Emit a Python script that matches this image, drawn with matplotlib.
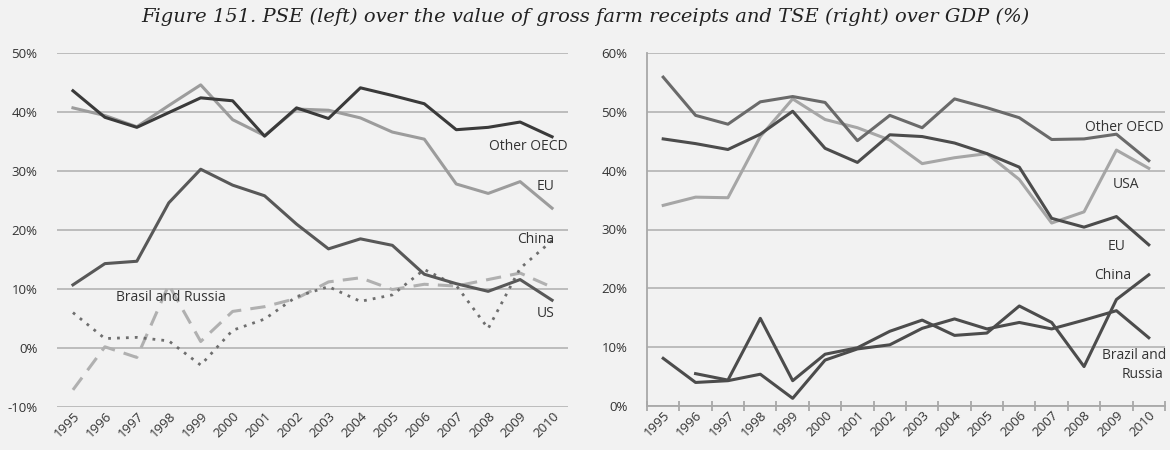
import numpy as np
import matplotlib.pyplot as plt
from matplotlib.ticker import FuncFormatter

years = list(range(1995, 2011))

# Left panel: PSE over gross farm receipts (%)
pse_other_oecd = [43.6, 39.1, 37.4, 39.9, 42.4, 41.9, 35.9, 40.7, 38.9, 44.1, 42.8, 41.4, 37.0, 37.4, 38.3, 35.8]
pse_eu = [40.7, 39.4, 37.5, 41.1, 44.6, 38.7, 36.0, 40.5, 40.3, 39.0, 36.6, 35.4, 27.8, 26.2, 28.2, 23.7]
pse_us = [10.7, 14.3, 14.7, 24.6, 30.3, 27.6, 25.8, 21.0, 16.8, 18.5, 17.4, 12.5, 10.9, 9.6, 11.6, 8.1]
pse_brasil_russia = [-7.1, 0.2, -1.6, 10.7, 1.1, 6.2, 7.0, 8.4, 11.2, 11.9, 9.9, 10.8, 10.5, 11.6, 12.7, 10.3]
pse_china = [6.0, 1.6, 1.8, 1.2, -2.9, 3.0, 4.9, 8.7, 10.4, 7.9, 9.0, 13.3, 10.6, 3.3, 13.5, 18.2]

# Right panel: TSE over GDP (%)
tse_other_oecd = [55.9, 49.4, 47.9, 51.7, 52.6, 51.6, 45.1, 49.4, 47.3, 52.2, 50.7, 49.0, 45.3, 45.4, 46.2, 41.7]
tse_eu = [45.4, 44.6, 43.6, 46.2, 50.1, 43.8, 41.4, 46.1, 45.8, 44.7, 42.9, 40.6, 31.9, 30.4, 32.2, 27.4]
tse_usa = [34.1, 35.5, 35.4, 45.8, 52.2, 48.7, 47.3, 45.2, 41.2, 42.2, 42.9, 38.5, 31.1, 33.0, 43.5, 40.4]
tse_china = [8.1, 4.0, 4.3, 5.4, 1.3, 7.8, 9.7, 10.4, 13.2, 14.8, 13.1, 14.2, 13.1, 14.6, 16.2, 11.6]
tse_brazil_russia = [np.nan, 5.5, 4.4, 14.9, 4.3, 8.8, 9.9, 12.7, 14.6, 12.0, 12.4, 17.0, 14.2, 6.7, 18.1, 22.3]

title = "Figure 151. PSE (left) over the value of gross farm receipts and TSE (right) over GDP (%)"

bg = '#f2f2f2'
grid_c = '#bcbcbc'
lab_font = dict(family='Open Sans', fontsize=10, color='#333333')

fig = plt.figure(figsize=(11.7, 4.5), dpi=100, facecolor=bg)
fig.text(0.5, 0.962, title, ha='center', va='center', fontsize=14,
         family='DejaVu Serif', style='italic', color='#222222')

axl = fig.add_axes([0.0487, 0.0956, 0.4368, 0.7866], facecolor=bg)
axr = fig.add_axes([0.553, 0.0978, 0.4427, 0.7844], facecolor=bg)

pct = FuncFormatter(lambda v, p: f"{v:.0f}%")

# left chart
axl.plot(years, pse_other_oecd, color='#3a3a3a', lw=2.2, zorder=5)
axl.plot(years, pse_eu, color='#9c9c9c', lw=2.2, zorder=4)
axl.plot(years, pse_us, color='#585858', lw=2.2, zorder=4)
axl.plot(years, pse_brasil_russia, color='#b0b0b0', lw=2.2, ls=(0, (5, 3)), zorder=3)
axl.plot(years, pse_china, color='#6e6e6e', lw=2.0, ls=(0, (1, 2.2)), zorder=3)

axl.set_ylim(-10, 50)
axl.set_yticks(range(-10, 51, 10))
axl.set_xlim(1994.5, 2010.5)

axl.text(2010.5, 34.1, "Other OECD", ha='right', va='center', **lab_font)
axl.text(2009.8, 27.3, "EU", ha='center', va='center', **lab_font)
axl.text(2009.5, 18.4, "China", ha='center', va='center', **lab_font)
axl.text(2009.8, 5.9, "US", ha='center', va='center', **lab_font)
axl.text(1996.35, 8.6, "Brasil and Russia", ha='left', va='center', **lab_font)

for s in axl.spines.values():
    s.set_visible(False)
axl.tick_params(axis='both', length=0)

# right chart
axr.plot(years, tse_other_oecd, color='#6a6a6a', lw=2.2, zorder=4)
axr.plot(years, tse_usa, color='#a6a6a6', lw=2.2, zorder=3)
axr.plot(years, tse_eu, color='#4c4c4c', lw=2.2, zorder=5)
axr.plot(years, tse_china, color='#4c4c4c', lw=2.2, zorder=5)
axr.plot(years, tse_brazil_russia, color='#4c4c4c', lw=2.2, zorder=5)

axr.set_ylim(0, 60)
axr.set_yticks(range(0, 61, 10))
axr.set_xlim(1994.5, 2010.5)

axr.text(2010.45, 47.4, "Other OECD", ha='right', va='center', **lab_font)
axr.text(2009.3, 37.6, "USA", ha='center', va='center', **lab_font)
axr.text(2009.0, 27.1, "EU", ha='center', va='center', **lab_font)
axr.text(2008.9, 22.1, "China", ha='center', va='center', **lab_font)
axr.text(2009.55, 8.5, "Brazil and", ha='center', va='center', **lab_font)
axr.text(2009.8, 5.3, "Russia", ha='center', va='center', **lab_font)

for s in ['top', 'right']:
    axr.spines[s].set_visible(False)
for s in ['left', 'bottom']:
    axr.spines[s].set_color('#a8a8a8')
    axr.spines[s].set_linewidth(1.3)
axr.tick_params(axis='y', length=0)
axr.set_xticks(np.arange(1994.5, 2011, 1), minor=True)
axr.tick_params(axis='x', which='minor', length=7, direction='inout', color='#a8a8a8', width=1.3)
axr.tick_params(axis='x', which='major', length=0)

for ax in (axl, axr):
    ax.yaxis.set_major_formatter(pct)
    ax.grid(axis='y', color=grid_c, lw=1.4)
    ax.set_axisbelow(True)
    ax.set_xticks(years)
    ax.set_xticklabels([str(y) for y in years], rotation=45, ha='right',
                       rotation_mode='anchor', family='Open Sans', fontsize=9.5, color='#333333')
    for lab in ax.get_yticklabels():
        lab.set_family('Open Sans')
        lab.set_fontsize(9.5)
        lab.set_color('#333333')
    ax.tick_params(axis='y', pad=14)
    ax.tick_params(axis='x', pad=2)

fig.savefig('out.png', dpi=100, facecolor=bg)
